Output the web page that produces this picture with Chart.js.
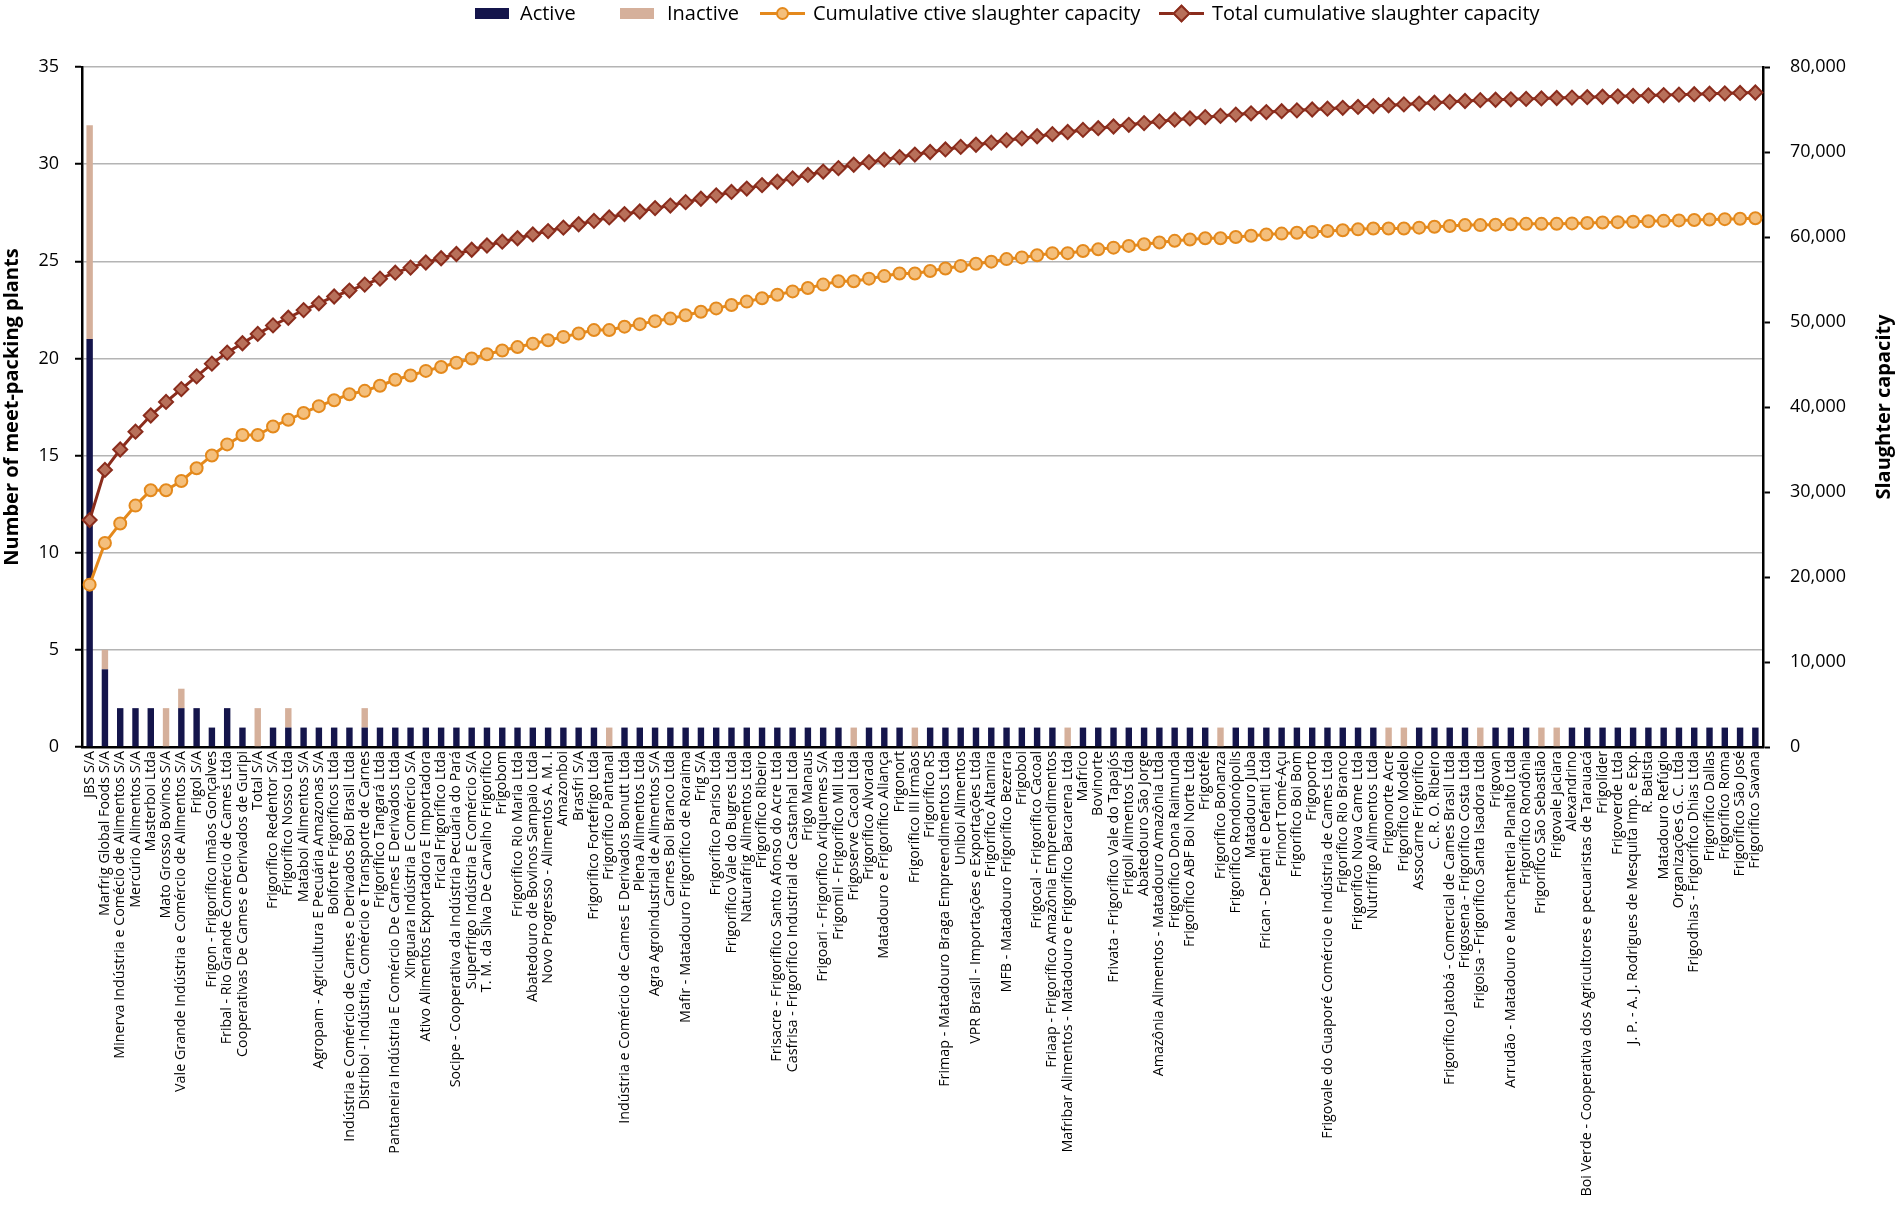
<!DOCTYPE html>
<html>
<head>
<meta charset="utf-8">
<script src="https://cdn.jsdelivr.net/npm/chart.js@4.4.1/dist/chart.umd.min.js"></script>
<style>
  html, body { margin: 0; padding: 0; background: #fff; }
  #wrap { position: relative; width: 1899px; height: 1220px; }
  #legend { position: absolute; top: 0; left: 0; width: 1899px; height: 26px;
            font-family: 'Open Sans', sans-serif; font-size: 20px; color: #000; white-space: nowrap; }
  .item { position: absolute; top: 0; height: 26px; display: flex; align-items: center; }
  .box { width: 34px; height: 11px; }
  .ln { position: relative; width: 45px; height: 16px; }
  .ln .bar { position: absolute; left: 0; right: 0; top: 6.5px; height: 3px; }
  .ln .mk { position: absolute; left: 16px; top: 2px; width: 9px; height: 9px; border: 2px solid; }
  .txt { position: absolute; top: 0; line-height: 26px; }
</style>
</head>
<body>
<div id="wrap">
  <canvas id="chart"></canvas>
  <div id="legend"></div>
</div>
<script>
// frigoríficos (ordem do gráfico)
const plants = [
    'JBS S/A', 'Marfrig Global Foods S/A', 'Minerva Indústria e Comécio de Alimentos S/A', 'Mercúrio Alimentos S/A',
    'Masterboi Ltda', 'Mato Grosso Bovinos S/A', 'Vale Grande Indústria e Comércio de Alimentos S/A', 'Frigol S/A',
    'Frigon - Frigorífico Imãos Gonçalves', 'Fribal - Rio Grande Comércio de Cames Ltda',
    'Cooperativas De Cames e Derivados de Guripi', 'Total S/A', 'Frigorífico Redentor S/A', 'Frigorífico Nosso Ltda',
    'Mataboi Alimentos S/A', 'Agropam - Agricultura E Pecuária Amazonas S/A', 'Boiforte Frigoríficos Ltda',
    'Indústria e Comércio de Carnes e Derivados Boi Brasil Ltda', 'Distriboi - Indústria, Comércio e Transporte de Carnes',
    'Frigorífico Tangará Ltda', 'Pantaneira Indústria E Comércio De Carnes E Derivados Ltda',
    'Xinguara Indústria E Comércio S/A', 'Ativo Alimentos Exportadora E Importadora', 'Frical Frigorífico Ltda',
    'Socipe - Cooperativa da Indústria Pecuária do Pará', 'Superfrigo Indústria E Comércio S/A',
    'T. M. da Silva De Carvalho Frigorífico', 'Frigobom', 'Frigorífico Rio Maria Ltda',
    'Abatedouro de Bovinos Sampaio Ltda', 'Novo Progresso - Alimentos A. M. I.', 'Amazonboi', 'Brasfri S/A',
    'Frigorífico Fortefrigo Ltda', 'Frigorífico Pantanal', 'Indústria e Comércio de Cames E Derivados Bonutt Ltda',
    'Plena Alimentos Ltda', 'Agra Agroindustrial de Alimentos S/A', 'Carnes Boi Branco Ltda',
    'Mafir - Matadouro Frigorífico de Roraima', 'Frig S/A', 'Frigorífico Pariso Ltda', 'Frigorífico Vale do Bugres Ltda',
    'Naturafrig Alimentos Ltda', 'Frigorífico Ribeiro', 'Frisacre - Frigorífico Santo Afonso do Acre Ltda',
    'Casfrisa - Frigorífico Industrial de Castanhal Ltda', 'Frigo Manaus', 'Frigoari - Frigorífico Ariquemes S/A',
    'Frigomil - Frigorífico Mil Ltda', 'Frigoserve Cacoal Ltda', 'Frigorífico Alvorada', 'Matadouro e Frigorífico Aliança',
    'Frigonort', 'Frigorífico III Irmãos', 'Frigorífico RS', 'Frimap - Matadouro Braga Empreendimentos Ltda',
    'Uniboi Alimentos', 'VPR Brasil - Importações e Exportações Ltda', 'Frigorífico Altamira',
    'MFB - Matadouro Frigorífico Bezerra', 'Frigoboi', 'Frigocal - Frigorífico Cacoal',
    'Friaap - Frigorífico Amazônia Empreendimentos', 'Mafribar Alimentos - Matadouro e Frigorífico Barcarena Ltda',
    'Mafrico', 'Bovinorte', 'Frivata - Frigorífico Vale do Tapajós', 'Frigoli Alimentos Ltda', 'Abatedouro São Jorge',
    'Amazônia Alimentos - Matadouro Amazônia Ltda', 'Frigorífico Dona Raimunda', 'Frigorífico ABF Boi Norte Ltda',
    'Frigotefé', 'Frigorífico Bonanza', 'Frigorífico Rondonópolis', 'Matadouro Juba', 'Frican - Defanti e Defanti Ltda',
    'Frinort Tomé-Açu', 'Frigorífico Boi Bom', 'Frigoporto', 'Frigovale do Guaporé Comércio e Indústria de Cames Ltda',
    'Frigorífico Rio Branco', 'Frigorífico Nova Came Ltda', 'Nutrifrigo Alimentos Ltda', 'Frigonorte Acre',
    'Frigorífico Modelo', 'Assocarne Frigorífico', 'C. R. O. Ribeiro', 'Frigorífico Jatobá - Comercial de Cames Brasil Ltda',
    'Frigosena - Frigorífico Costa Ltda', 'Frigoisa - Frigorífico Santa Isadora Ltda', 'Frigovan',
    'Arrudão - Matadouro e Marchanteria Planalto Ltda', 'Frigorífico Rondônia', 'Frigorífico São Sebastião',
    'Frigovale Jaciara', 'Alexandrino', 'Boi Verde - Cooperativa dos Agricultores e pecuaristas de Tarauacá',
    'Frigolíder', 'Frigoverde Ltda', 'J. P. - A. J. Rodrigues de Mesquita Imp. e Exp.', 'R. Batista',
    'Matadouro Refúgio', 'Organizações G. C. Ltda', 'Frigodhias - Frigorífico Dhias Ltda', 'Frigorífico Dallas',
    'Frigorífico Roma', 'Frigorífico São José', 'Frigorífico Savana'
];

// número de plantas ativas / inativas
const activePlants = [
    21, 4, 2, 2, 2, 0, 2, 2, 1, 2,
    1, 0, 1, 1, 1, 1, 1, 1, 1, 1,
    1, 1, 1, 1, 1, 1, 1, 1, 1, 1,
    1, 1, 1, 1, 0, 1, 1, 1, 1, 1,
    1, 1, 1, 1, 1, 1, 1, 1, 1, 1,
    0, 1, 1, 1, 0, 1, 1, 1, 1, 1,
    1, 1, 1, 1, 0, 1, 1, 1, 1, 1,
    1, 1, 1, 1, 0, 1, 1, 1, 1, 1,
    1, 1, 1, 1, 1, 0, 0, 1, 1, 1,
    1, 0, 1, 1, 1, 0, 0, 1, 1, 1,
    1, 1, 1, 1, 1, 1, 1, 1, 1, 1
];
const inactivePlants = [
    11, 1, 0, 0, 0, 2, 1, 0, 0, 0,
    0, 2, 0, 1, 0, 0, 0, 0, 1, 0,
    0, 0, 0, 0, 0, 0, 0, 0, 0, 0,
    0, 0, 0, 0, 1, 0, 0, 0, 0, 0,
    0, 0, 0, 0, 0, 0, 0, 0, 0, 0,
    1, 0, 0, 0, 1, 0, 0, 0, 0, 0,
    0, 0, 0, 0, 1, 0, 0, 0, 0, 0,
    0, 0, 0, 0, 1, 0, 0, 0, 0, 0,
    0, 0, 0, 0, 0, 1, 1, 0, 0, 0,
    0, 1, 0, 0, 0, 1, 1, 0, 0, 0,
    0, 0, 0, 0, 0, 0, 0, 0, 0, 0
];

// capacidade de abate acumulada (cabeças)
const cumActive = [
    19100, 24000, 26300, 28400, 30200, 30200, 31300, 32800, 34300, 35600,
    36700, 36700, 37700, 38500, 39300, 40100, 40800, 41500, 41900, 42500,
    43200, 43700, 44250, 44700, 45200, 45700, 46200, 46650, 47050, 47450,
    47850, 48250, 48650, 49050, 49050, 49450, 49750, 50100, 50400, 50800,
    51200, 51600, 52000, 52400, 52800, 53200, 53600, 54000, 54400, 54800,
    54800, 55100, 55400, 55700, 55700, 56000, 56300, 56600, 56850, 57100,
    57400, 57600, 57850, 58100, 58100, 58350, 58550, 58750, 58950, 59150,
    59350, 59550, 59700, 59850, 59850, 60000, 60150, 60300, 60400, 60500,
    60600, 60700, 60800, 60900, 61000, 61000, 61000, 61100, 61200, 61300,
    61400, 61400, 61450, 61500, 61550, 61550, 61550, 61600, 61650, 61700,
    61750, 61800, 61850, 61900, 61950, 62000, 62050, 62100, 62150, 62200
];
const cumTotal = [
    26700, 32600, 35000, 37100, 39000, 40600, 42100, 43600, 45100, 46400,
    47500, 48600, 49600, 50500, 51400, 52200, 53000, 53700, 54400, 55100,
    55800, 56400, 57000, 57500, 58000, 58500, 59000, 59450, 59850, 60300,
    60700, 61100, 61500, 61900, 62300, 62700, 63000, 63400, 63700, 64100,
    64500, 64900, 65300, 65700, 66100, 66500, 66900, 67300, 67700, 68100,
    68500, 68800, 69100, 69400, 69700, 70000, 70300, 70600, 70850, 71100,
    71400, 71600, 71850, 72100, 72350, 72600, 72800, 73000, 73200, 73400,
    73600, 73800, 73950, 74100, 74250, 74400, 74550, 74700, 74800, 74900,
    75000, 75100, 75200, 75300, 75400, 75500, 75600, 75700, 75800, 75900,
    76000, 76100, 76150, 76200, 76250, 76300, 76350, 76400, 76450, 76500,
    76550, 76600, 76650, 76700, 76750, 76800, 76850, 76900, 76950, 77000
];

const FONT = "'Open Sans', sans-serif";

// título do eixo direito (lido de baixo para cima)
const rightTitle = {
    id: 'rightTitle',
    afterDraw(chart) {
        const { ctx, chartArea } = chart;
        ctx.save();
        ctx.translate(1884, (chartArea.top + chartArea.bottom) / 2);
        ctx.rotate(-Math.PI / 2);
        ctx.font = "bold 20px " + FONT;
        ctx.fillStyle = '#000';
        ctx.textAlign = 'center';
        ctx.textBaseline = 'middle';
        ctx.fillText('Slaughter capacity', 0, 0);
        ctx.restore();
    }
};

const chart = new Chart(document.getElementById('chart'), {
    type: 'bar',
    data: {
        labels: plants,
        datasets: [
            {
                label: 'Active',
                data: activePlants,
                backgroundColor: '#14154b',
                barPercentage: 0.42,
                categoryPercentage: 1,
                yAxisID: 'y',
                order: 2
            },
            {
                label: 'Inactive',
                data: inactivePlants,
                backgroundColor: '#d5b09b',
                barPercentage: 0.42,
                categoryPercentage: 1,
                yAxisID: 'y',
                order: 2
            },
            {
                type: 'line',
                label: 'Cumulative ctive slaughter capacity',
                data: cumActive,
                borderColor: '#e4891c',
                backgroundColor: '#f4bf7c',
                borderWidth: 3,
                pointStyle: 'circle',
                pointRadius: 6,
                pointBorderWidth: 2,
                pointBorderColor: '#e4891c',
                pointBackgroundColor: '#f4bf7c',
                yAxisID: 'y1',
                order: 1
            },
            {
                type: 'line',
                label: 'Total cumulative slaughter capacity',
                data: cumTotal,
                borderColor: '#8a2c1c',
                backgroundColor: '#b8705a',
                borderWidth: 3,
                pointStyle: 'rectRot',
                pointRadius: 7,
                pointBorderWidth: 2,
                pointBorderColor: '#8a2c1c',
                pointBackgroundColor: '#b8705a',
                yAxisID: 'y1',
                order: 1
            }
        ]
    },
    options: {
        responsive: true,
        maintainAspectRatio: false,
        animation: false,
        layout: { padding: { top: 67, left: 0, right: 0, bottom: 0 } },
        plugins: {
            legend: { display: false },
            tooltip: { enabled: false }
        },
        scales: {
            x: {
                stacked: true,
                offset: true,
                grid: { display: false, drawTicks: false },
                border: { color: '#000', width: 2.5 },
                ticks: {
                    autoSkip: false,
                    minRotation: 90,
                    maxRotation: 90,
                    padding: 4,
                    color: '#000',
                    font: { family: FONT, size: 14.3 }
                },
                afterFit: s => { s.height = 473; }
            },
            y: {
                position: 'left',
                stacked: true,
                min: 0,
                max: 35,
                ticks: { stepSize: 5, padding: 16, color: '#000', font: { family: FONT, size: 18 } },
                grid: { color: '#b4b4b4', lineWidth: 1.5, tickColor: '#000', tickLength: 7, tickWidth: 2 },
                border: { color: '#000', width: 2.5 },
                title: {
                    display: true,
                    text: 'Number of meet-packing plants',
                    color: '#000',
                    font: { family: FONT, size: 20, weight: 'bold' },
                    padding: { top: 0, bottom: 0 }
                },
                afterFit: s => { s.width = 82; }
            },
            y1: {
                position: 'right',
                min: 0,
                max: 80000,
                ticks: {
                    stepSize: 10000,
                    padding: 20,
                    color: '#000',
                    font: { family: FONT, size: 18 },
                    callback: v => v.toLocaleString('en-US')
                },
                grid: { drawOnChartArea: false, tickColor: '#000', tickLength: 7, tickWidth: 2 },
                border: { color: '#000', width: 2.5 },
                afterFit: s => { s.width = 136; }
            }
        }
    },
    plugins: [rightTitle]
});

// legenda em HTML a partir dos datasets (posições)
const legendMarkX = [475, 620, 760, 1159];
const legendTextX = [520, 667, 813, 1212];
const legendEl = document.getElementById('legend');
chart.data.datasets.forEach((ds, i) => {
    const item = document.createElement('div');
    item.className = 'item';
    item.style.left = legendMarkX[i] + 'px';
    if (ds.type === 'line') {
        const ln = document.createElement('div');
        ln.className = 'ln';
        const bar = document.createElement('div');
        bar.className = 'bar';
        bar.style.background = ds.borderColor;
        const mk = document.createElement('div');
        mk.className = 'mk';
        mk.style.background = ds.pointBackgroundColor;
        mk.style.borderColor = ds.pointBorderColor;
        if (ds.pointStyle === 'circle') {
            mk.style.borderRadius = '50%';
        } else {
            mk.style.transform = 'rotate(45deg)';
        }
        ln.appendChild(bar);
        ln.appendChild(mk);
        item.appendChild(ln);
    } else {
        const box = document.createElement('div');
        box.className = 'box';
        box.style.background = ds.backgroundColor;
        item.appendChild(box);
    }
    legendEl.appendChild(item);
    const txt = document.createElement('span');
    txt.className = 'txt';
    txt.style.left = legendTextX[i] + 'px';
    txt.textContent = ds.label;
    legendEl.appendChild(txt);
});
</script>
</body>
</html>
